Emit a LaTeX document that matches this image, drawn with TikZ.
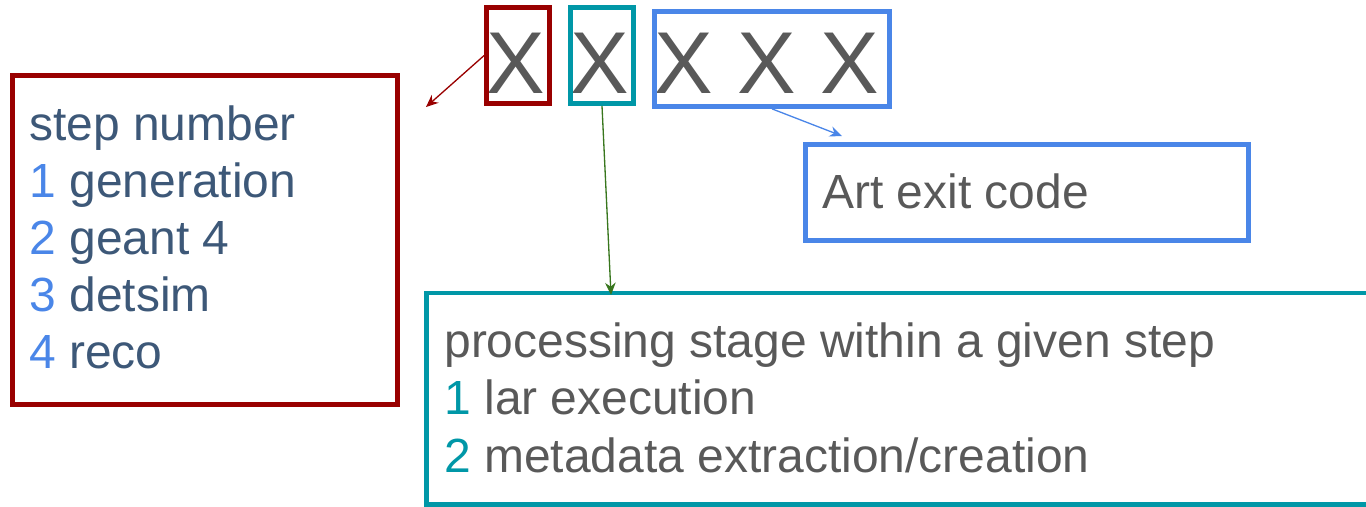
\documentclass[tikz,border=0pt]{standalone}
\usepackage{fontspec}
\setmainfont{Liberation Sans}
\usepackage{xcolor}
\definecolor{stepred}{RGB}{153,0,0}
\definecolor{stageteal}{RGB}{0,151,167}
\definecolor{codeblue}{RGB}{74,134,232}
\definecolor{slate}{RGB}{61,88,120}
\definecolor{textgray}{RGB}{89,89,89}
\definecolor{arrowgreen}{RGB}{56,118,29}
\usepackage{tikz}
\usetikzlibrary{positioning, arrows.meta}
\tikzstyle{frame} = [
    rectangle,
    line width=2.7pt,
    inner sep=0pt,
]
\tikzstyle{digit} = [
    inner sep=0pt,
    anchor=base,
    text=textgray,
    font=\fontsize{50}{60}\selectfont,
]
\tikzstyle{line} = [
    inner sep=0pt,
    anchor=base west,
    font=\fontsize{27.3}{33}\selectfont,
]
\tikzstyle{arrow} = [-{Stealth[length=7pt,width=6pt]}, line width=0.75pt]

\begin{document}
\begin{tikzpicture}[x=0.02cm, y=-0.02cm]
    \useasboundingbox (0,0) rectangle (1366,507);

    % code digits
    \node (stepd) at (516, 93) [digit] {X};
    \node (staged) at (600, 93) [digit] {X};
    \node (coded) at (767, 93) [digit] {X X X};

    % boxes
    \node (stepx) at (518, 55.5) [frame, draw=stepred, minimum width=1.26cm, minimum height=1.92cm] {};
    \node (stagex) at (602, 55.5) [frame, draw=stageteal, minimum width=1.26cm, minimum height=1.92cm] {};
    \node (codex) at (772, 59) [frame, draw=codeblue, minimum width=4.7cm, minimum height=1.9cm] {};
    \node (stepbox) at (205, 240) [frame, draw=stepred, minimum width=7.7cm, minimum height=6.58cm] {};
    \node (codebox) at (1027, 192.5) [frame, draw=codeblue, minimum width=8.86cm, minimum height=1.92cm] {};
    \node (stagebox) at (900, 398.75) [frame, draw=stageteal, minimum width=18.94cm, minimum height=4.235cm] {};

    % step numbers
    \node (steptitle) at (29, 140) [line, text=slate] {step number};
    \foreach \num/\name [count=\i] in {1/generation,2/geant 4,3/detsim,4/reco} {
        \node (step\i) at (29, 140+57*\i) [line, text=slate] {\textcolor{codeblue}{\num} \name};
    }

    % exit code
    \node (codetext) at (822, 208) [line, text=textgray] {Art exit code};

    % processing stages
    \node (stagetitle) at (444, 357) [line, text=textgray] {processing stage within a given step};
    \foreach \num/\name [count=\i] in {1/lar execution,2/metadata extraction\slash creation} {
        \node (stage\i) at (444, 357+57.5*\i) [line, text=textgray] {\textcolor{stageteal}{\num} \name};
    }

    % arrows
    \coordinate (stepend) at (426, 107);
    \coordinate (stageend) at (611, 295);
    \coordinate (codeend) at (842, 136);
    \draw [arrow, stepred] (stepx.west) to (stepend);
    \draw [arrow, arrowgreen] (stagex.south) to (stageend);
    \draw [arrow, codeblue] (codex.south) to (codeend);

\end{tikzpicture}
\end{document}
